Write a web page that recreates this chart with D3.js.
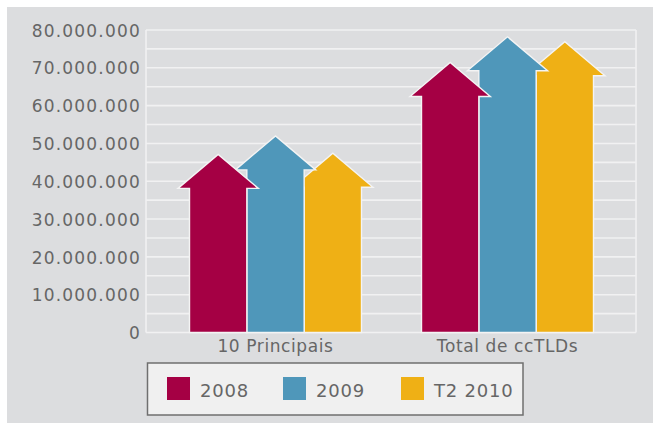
<!DOCTYPE html>
<html lang="en">
<head>
    <meta charset="UTF-8">
    <script src="https://d3js.org/d3.v7.min.js"></script>
    <title>ccTLDs</title>
    <style>
        body { margin: 0; background: #ffffff; }
        text { font-family: "DejaVu Sans", sans-serif; fill: #666666; }
    </style>
</head>
<body>
    <div id="chart"></div>

    <script>
        // data (arrow tip = value)
        let categories = ["10 Principais", "Total de ccTLDs"];
        let series = ["2008", "2009", "T2 2010"];
        let values2008 = [47100000, 71400000];
        let values2009 = [52000000, 78200000];
        let valuesT2 = [47400000, 76900000];
        let yTicks = [0, 10000000, 20000000, 30000000, 40000000, 50000000, 60000000, 70000000, 80000000];
        let gridValues = d3.range(0, 80000001, 5000000);

        let colors = ["#a50044", "#4f97ba", "#efb015"];
        let allValues = [values2008, values2009, valuesT2];

        let width = 653, height = 423;
        let svg = d3.select("#chart").append("svg")
            .attr("width", width)
            .attr("height", height);

        // grey panel
        svg.append("rect")
            .attr("x", 7).attr("y", 7)
            .attr("width", width - 7).attr("height", height - 7)
            .attr("fill", "#dcdddf");

        let plotLeft = 146, plotRight = 636;
        let y = d3.scaleLinear().domain([0, 80000000]).range([332.5, 30]);

        // gridlines every 5 million
        svg.append("g").selectAll("line")
            .data(gridValues)
            .enter()
            .append("line")
            .attr("x1", plotLeft).attr("x2", plotRight)
            .attr("y1", function(d) { return y(d); })
            .attr("y2", function(d) { return y(d); })
            .attr("stroke", "#f1f1f2")
            .attr("stroke-width", 1.6);
        [plotLeft, plotRight].forEach(function(px) {
            svg.append("line")
                .attr("x1", px).attr("x2", px)
                .attr("y1", y(0)).attr("y2", y(80000000))
                .attr("stroke", "#f1f1f2")
                .attr("stroke-width", 1.6);
        });

        // y axis labels
        let loc = d3.formatLocale({decimal: ",", thousands: ".", grouping: [3], currency: ["", ""]});
        let yAxis = svg.append("g")
            .attr("transform", "translate(" + 141 + ",0)")
            .call(d3.axisLeft(y).tickValues(yTicks).tickSize(0).tickPadding(0).tickFormat(loc.format(",d")));
        yAxis.select(".domain").remove();
        yAxis.selectAll("text")
            .style("font-family", "DejaVu Sans, sans-serif")
            .style("font-size", "17px")
            .style("letter-spacing", "1.2px")
            .style("fill", "#666666")
            .attr("dy", "0.36em");

        // x scales
        let x0 = d3.scaleBand().domain(categories).range([159.5, 623.5]).padding(0);
        let x1 = d3.scaleBand().domain(series).range([30, 202]).padding(0);

        let headH = 34, overhang = 11.5;
        let arrowPath = function(left, w, top) {
            let base = y(0);
            let shoulder = top + headH;
            let cx = left + w / 2;
            return "M" + left + "," + base +
                "L" + left + "," + shoulder +
                "L" + (left - overhang) + "," + shoulder +
                "L" + cx + "," + top +
                "L" + (left + w + overhang) + "," + shoulder +
                "L" + (left + w) + "," + shoulder +
                "L" + (left + w) + "," + base + "Z";
        };

        // drawn last series first, so the earlier arrows sit on top
        let arrows = svg.append("g");
        categories.forEach(function(cat, ci) {
            series.slice().reverse().forEach(function(s) {
                let si = series.indexOf(s);
                let v = allValues[si][ci];
                arrows.append("path")
                    .attr("d", arrowPath(x0(cat) + x1(s), x1.bandwidth(), y(v)))
                    .attr("fill", colors[si])
                    .attr("stroke", "#f4f4f4")
                    .attr("stroke-width", 1.4)
                    .attr("stroke-linejoin", "miter");
            });
        });

        // category labels
        svg.append("g").selectAll("text")
            .data(categories)
            .enter()
            .append("text")
            .attr("x", function(d) { return x0(d) + x0.bandwidth() / 2; })
            .attr("y", 352)
            .attr("text-anchor", "middle")
            .style("font-size", "17px")
            .style("letter-spacing", "0.6px")
            .text(function(d) { return d; });

        // legend
        let legend = svg.append("g");
        legend.append("rect")
            .attr("x", 147.5).attr("y", 363)
            .attr("width", 375.5).attr("height", 52)
            .attr("fill", "#f0f0f0")
            .attr("stroke", "#6f6f6f")
            .attr("stroke-width", 1.5);
        let legendX = [167, 283, 401];
        series.forEach(function(s, i) {
            legend.append("rect")
                .attr("x", legendX[i]).attr("y", 377)
                .attr("width", 23).attr("height", 23)
                .attr("fill", colors[i]);
            legend.append("text")
                .attr("x", legendX[i] + 33).attr("y", 396.5)
                .style("font-size", "18px")
                .style("letter-spacing", "0.8px")
                .text(s);
        });
    </script>
</body>
</html>
